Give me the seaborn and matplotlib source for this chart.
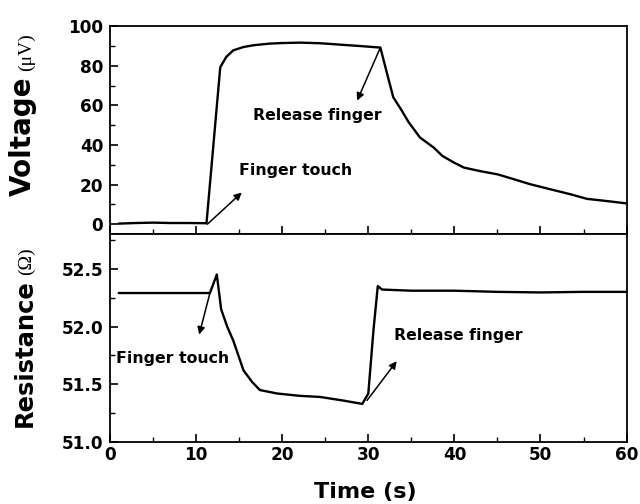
import numpy as np
import pandas as pd
import seaborn as sns
import matplotlib
matplotlib.use("Agg")
import matplotlib.pyplot as plt
from matplotlib.ticker import MultipleLocator

# ---- data ----
t_volt = [1, 3, 5, 7, 9, 11.2, 12.8, 13.5, 14.3, 15.5, 16.7, 18.5, 20, 22.1, 24.4,
          27, 29, 31.4, 32.3, 32.9, 33.8, 34.7, 36.0, 37.6, 38.6, 40, 41.1, 43,
          45, 47, 48.8, 51, 53.5, 55.4, 57.5, 60]
voltage = [0.3, 0.6, 0.8, 0.6, 0.6, 0.5, 79.3, 84.5, 87.8, 89.5, 90.4, 91.2, 91.5,
           91.7, 91.4, 90.6, 90.0, 89.2, 74.0, 64.1, 58.0, 51.4, 43.8, 38.7, 34.5,
           31.0, 28.6, 26.8, 25.2, 22.6, 20.2, 17.8, 15.1, 12.8, 11.8, 10.5]

t_res = [1.0, 5, 9, 11.6, 12.4, 12.9, 13.6, 14.3, 15.5, 16.5, 17.4, 19.4, 22, 24.4,
         27, 29.3, 30.0, 30.6, 31.1, 31.6, 35, 40, 45, 50, 55, 60]
resistance = [52.29, 52.29, 52.29, 52.29, 52.45, 52.15, 52.0, 51.88, 51.62, 51.52,
              51.45, 51.42, 51.40, 51.39, 51.36, 51.33, 51.42, 51.97, 52.35, 52.32,
              52.31, 52.31, 52.30, 52.295, 52.30, 52.30]

volt_xticks = [0, 10, 20, 30, 40, 50, 60]
volt_yticks = [0, 20, 40, 60, 80, 100]
res_yticks = [51.0, 51.5, 52.0, 52.5]

df_v = pd.DataFrame({"t": t_volt, "v": voltage})
df_r = pd.DataFrame({"t": t_res, "r": resistance})

sns.set_style("ticks")
plt.rcParams["font.family"] = ["DejaVu Sans"]
plt.rcParams["axes.linewidth"] = 1.3
for k in ("text.color", "axes.labelcolor", "xtick.color", "ytick.color",
          "axes.edgecolor", "xtick.labelcolor", "ytick.labelcolor"):
    plt.rcParams[k] = "black"

fig, (ax1, ax2) = plt.subplots(2, 1, figsize=(6.4, 5.04), dpi=100, sharex=True)
fig.subplots_adjust(left=0.172, right=0.979, top=0.948, bottom=0.123, hspace=0)

sns.lineplot(data=df_v, x="t", y="v", ax=ax1, color="black", lw=1.7, estimator=None)
sns.lineplot(data=df_r, x="t", y="r", ax=ax2, color="black", lw=1.7, estimator=None)

for ax in (ax1, ax2):
    ax.set_xlim(0, 60)
    ax.set_xlabel("")
    ax.set_ylabel("")
    for s in ax.spines.values():
        s.set_visible(True)
        s.set_linewidth(1.3)
        s.set_color("black")
    ax.xaxis.set_major_locator(MultipleLocator(10))
    ax.xaxis.set_minor_locator(MultipleLocator(5))
    ax.tick_params(which="major", direction="in", length=6, width=1.2,
                   top=False, right=False, labelsize=12.2, colors="black")
    ax.tick_params(which="minor", direction="in", length=3.5, width=1.0,
                   top=False, right=False, colors="black")
    ax.tick_params(axis="y", pad=5)
    ax.tick_params(axis="x", pad=3)

ax1.set_ylim(-5, 100)
ax1.set_yticks(volt_yticks)
ax1.yaxis.set_minor_locator(MultipleLocator(10))
ax1.tick_params(axis="x", labelbottom=False)
for lab in ax1.get_yticklabels():
    lab.set_fontweight("bold")

ax2.set_ylim(51.0, 52.8)
ax2.set_yticks(res_yticks)
ax2.set_yticklabels([f"{v:.1f}" for v in res_yticks])
ax2.yaxis.set_minor_locator(MultipleLocator(0.25))
ax2.set_xticks(volt_xticks)
ax2.set_xticklabels([str(v) for v in volt_xticks])
for lab in ax2.get_xticklabels() + ax2.get_yticklabels():
    lab.set_fontweight("bold")

arrow = dict(arrowstyle="-|>", lw=1.1, color="black", mutation_scale=11,
             shrinkA=0, shrinkB=0)
afs = 11.3

# top panel annotations
ax1.annotate("", xy=(15.3, 16), xytext=(11.3, 0), arrowprops=arrow)
ax1.text(15.0, 27, "Finger touch", fontsize=afs, fontweight="bold", va="center", ha="left")
ax1.annotate("", xy=(28.7, 62.4), xytext=(31.4, 89.2), arrowprops=arrow)
ax1.text(16.6, 55, "Release finger", fontsize=afs, fontweight="bold", va="center", ha="left")

# bottom panel annotations
ax2.annotate("", xy=(10.35, 51.93), xytext=(11.6, 52.29), arrowprops=arrow)
ax2.text(0.7, 51.725, "Finger touch", fontsize=afs, fontweight="bold", va="center", ha="left")
ax2.annotate("", xy=(33.3, 51.70), xytext=(29.85, 51.36), arrowprops=arrow)
ax2.text(33.0, 51.92, "Release finger", fontsize=afs, fontweight="bold", va="center", ha="left")

# axis labels
fig.text(0.036, 1 - 136 / 504, "Voltage", rotation=90, fontsize=20, fontweight="bold",
         ha="center", va="center")
fig.text(0.041, 1 - 52.5 / 504, "(\u03bcV)", rotation=90, fontsize=14,
         family=["Liberation Serif", "DejaVu Serif"], ha="center", va="center")
fig.text(0.038, 1 - 353.5 / 504, "Resistance", rotation=90, fontsize=17.5,
         fontweight="bold", ha="center", va="center")
fig.text(0.041, 1 - 261.5 / 504, "(\u03a9)", rotation=90, fontsize=14,
         family=["Liberation Serif", "DejaVu Serif"], ha="center", va="center")
fig.text(365 / 640, 1 - 492 / 504, "Time (s)", fontsize=16, fontweight="bold",
         ha="center", va="center")

fig.savefig("out.png", dpi=100)
